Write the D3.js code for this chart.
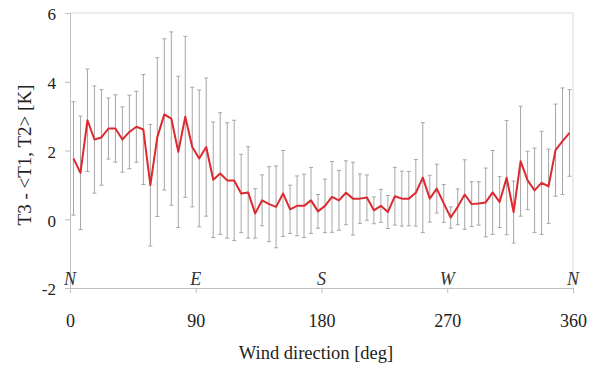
<!DOCTYPE html>
<html>
<head>
<meta charset="utf-8">
<script src="https://cdn.jsdelivr.net/npm/d3@7/dist/d3.min.js"></script>
<style>
html,body{margin:0;padding:0;background:#fff;}
svg{display:block;}
</style>
</head>
<body>
<svg id="chart" width="589" height="369"></svg>
<script>
const directions = [2.5,7.5,12.5,17.5,22.5,27.5,32.5,37.5,42.5,47.5,52.5,57.5,62.5,67.5,72.5,77.5,82.5,87.5,92.5,97.5,102.5,107.5,112.5,117.5,122.5,127.5,132.5,137.5,142.5,147.5,152.5,157.5,162.5,167.5,172.5,177.5,182.5,187.5,192.5,197.5,202.5,207.5,212.5,217.5,222.5,227.5,232.5,237.5,242.5,247.5,252.5,257.5,262.5,267.5,272.5,277.5,282.5,287.5,292.5,297.5,302.5,307.5,312.5,317.5,322.5,327.5,332.5,337.5,342.5,347.5,352.5,357.5];
const meanDiff = [1.77,1.35,2.88,2.32,2.38,2.64,2.64,2.32,2.54,2.69,2.61,0.99,2.39,3.05,2.93,1.96,2.98,2.10,1.77,2.10,1.15,1.33,1.13,1.13,0.75,0.78,0.17,0.55,0.44,0.36,0.75,0.29,0.39,0.39,0.55,0.23,0.39,0.65,0.55,0.77,0.60,0.60,0.63,0.26,0.39,0.21,0.67,0.60,0.60,0.77,1.21,0.60,0.89,0.46,0.05,0.36,0.72,0.44,0.46,0.49,0.78,0.50,1.21,0.21,1.69,1.13,0.84,1.06,0.96,2.01,2.27,2.51];
const stdDev = [1.65,1.65,1.49,1.56,1.39,0.89,0.98,0.95,1.07,1.03,1.60,1.77,2.31,2.20,2.52,2.20,2.34,1.74,1.99,2.01,1.68,1.77,1.68,1.75,1.14,1.33,0.72,0.74,1.09,1.19,1.25,0.70,0.87,0.92,0.96,0.49,0.78,1.03,0.87,0.93,1.06,0.72,0.66,0.39,0.48,0.48,0.84,0.80,0.79,0.97,1.60,0.68,0.71,0.55,0.31,0.52,1.01,0.65,0.63,1.00,1.22,0.74,1.66,0.90,1.60,0.85,1.23,1.50,1.08,1.34,1.55,1.26];
const yTicks = [-2,0,2,4,6];
const xTicks = [0,90,180,270,360];
const compass = ["N","E","S","W","N"];

const svg = d3.select("#chart");
const x = d3.scaleLinear().domain([0,360]).range([70,573]);
const y = d3.scaleLinear().domain([-2,6]).range([288,13]);
const serif = "'Liberation Serif','Times New Roman',serif";

// frame (top and right)
svg.append("line").attr("x1",70).attr("x2",573).attr("y1",y(6)).attr("y2",y(6)).attr("stroke","#d9d9d9").attr("stroke-width",1);
svg.append("line").attr("x1",573).attr("x2",573).attr("y1",y(6)).attr("y2",y(-2)).attr("stroke","#d9d9d9").attr("stroke-width",1);

// y axis
const yAxis = d3.axisLeft(y).tickValues(yTicks).tickSize(5).tickPadding(9).tickFormat(d=>String(d));
const gy = svg.append("g").attr("transform","translate(70,0)").call(yAxis);
gy.select(".domain").attr("stroke","#bfbfbf");
gy.selectAll(".tick line").attr("stroke","#bfbfbf");
gy.selectAll(".tick text").attr("font-family",serif).attr("font-size",17).attr("fill","#222").attr("dy","0.4em");

// x axis
const xAxis = d3.axisBottom(x).tickValues(xTicks).tickSize(5).tickPadding(21).tickFormat(d=>String(d));
const gx = svg.append("g").attr("transform",`translate(0,${y(-2)})`).call(xAxis);
gx.select(".domain").attr("stroke","#bfbfbf");
gx.selectAll(".tick line").attr("stroke","#bfbfbf");
gx.selectAll(".tick text").attr("font-family",serif).attr("font-size",18).attr("fill","#222");

// compass letters
svg.append("g").selectAll("text").data(xTicks).join("text")
  .attr("x",d=>x(d)).attr("y",y(-2)-3)
  .attr("text-anchor","middle")
  .attr("font-family",serif).attr("font-style","italic").attr("font-size",18).attr("fill","#333")
  .text((d,i)=>compass[i]);

// error bars
const eb = svg.append("g").attr("stroke","#a6a6a6").attr("stroke-width",1);
directions.forEach((d,i)=>{
  const xc = x(d), top = y(meanDiff[i]+stdDev[i]), bot = y(meanDiff[i]-stdDev[i]);
  eb.append("line").attr("x1",xc).attr("x2",xc).attr("y1",top).attr("y2",bot);
  eb.append("line").attr("x1",xc-2).attr("x2",xc+2).attr("y1",top).attr("y2",top);
  eb.append("line").attr("x1",xc-2).attr("x2",xc+2).attr("y1",bot).attr("y2",bot);
});

// mean line
const line = d3.line().x((d,i)=>x(directions[i])).y(d=>y(d));
svg.append("path").datum(meanDiff).attr("d",line)
  .attr("fill","none").attr("stroke","#dc2a30").attr("stroke-width",2).attr("stroke-linejoin","round");

// axis titles
svg.append("text").attr("x",316).attr("y",359).attr("text-anchor","middle")
  .attr("font-family",serif).attr("font-size",18.5).attr("fill","#222").text("Wind direction [deg]");
svg.append("text").attr("transform","translate(31,155) rotate(-90)").attr("text-anchor","middle")
  .attr("font-family",serif).attr("font-size",19).attr("fill","#222").text("T3 - <T1, T2> [K]");
</script>
</body>
</html>
